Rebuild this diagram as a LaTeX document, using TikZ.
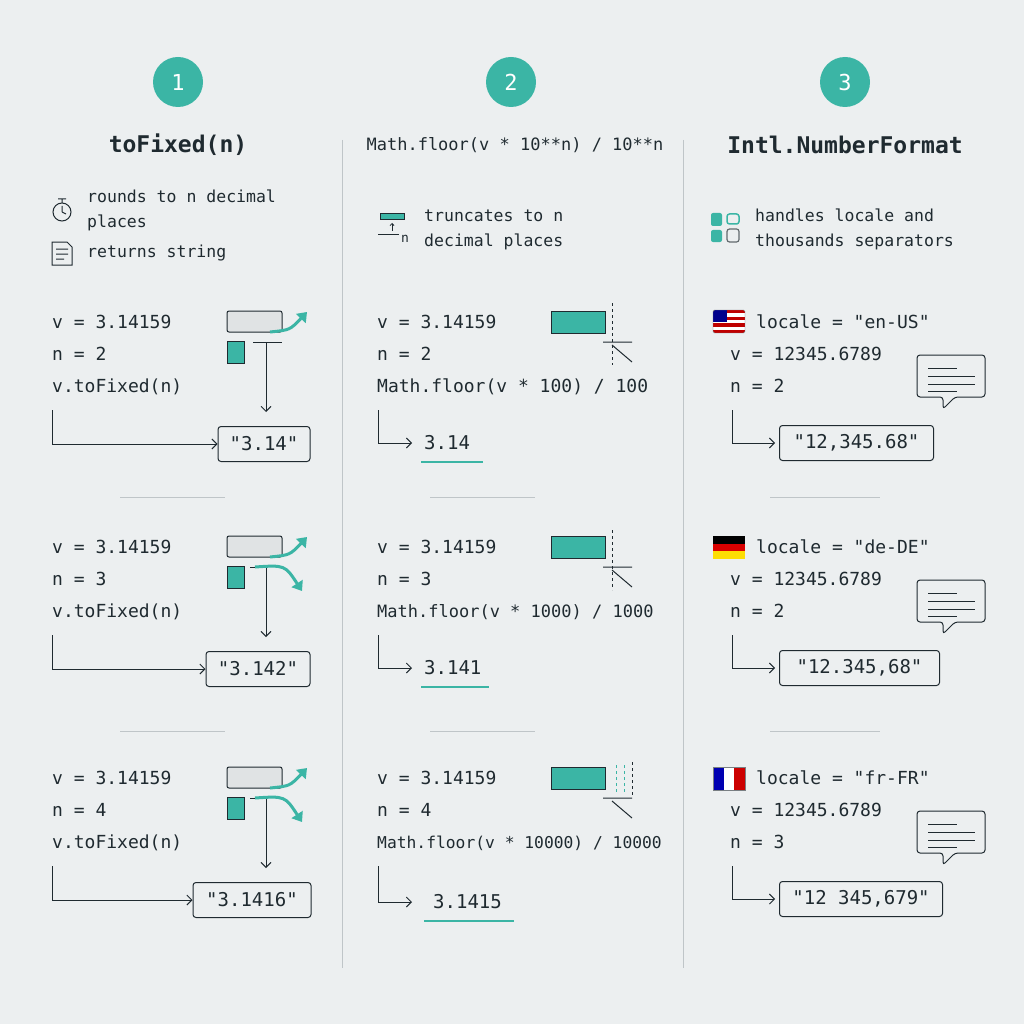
\documentclass[tikz,border=0pt]{standalone}
\usepackage{fontspec}
\setmainfont{DejaVu Sans Mono}[Ligatures=TeXOff]
\usetikzlibrary{arrows.meta}
\definecolor{bg}{HTML}{ECEFF0}
\definecolor{teal}{HTML}{3BB5A5}
\definecolor{ink}{HTML}{1F2A30}
\definecolor{sep}{HTML}{BFC5C8}
\definecolor{boxg}{HTML}{E0E3E4}
\begin{document}
\begin{tikzpicture}[x=1pt,y=-1pt,
  txt/.style={anchor=base west,inner sep=0pt,text=ink,font=\fontsize{18}{18}\selectfont},
  sm/.style={anchor=base west,inner sep=0pt,text=ink,font=\fontsize{16.5}{16.5}\selectfont},
  ttl/.style={inner sep=0pt,text=ink,font=\fontsize{23}{23}\selectfont\bfseries},
  num/.style={circle,fill=teal,minimum size=50pt,inner sep=0pt,text=white,font=\fontsize{22}{22}\selectfont},
  res/.style={draw=ink,line width=1pt,rounded corners=3pt,minimum height=35pt,inner xsep=8pt,text=ink,font=\fontsize{19}{19}\selectfont},
  ln/.style={draw=ink,line width=0.9pt},
  arr/.style={ln,-{Straight Barb[length=5pt,width=10pt]}},
  tarr/.style={draw=teal,line width=3pt,-{Triangle[length=9pt,width=13pt]}}]
\fill[bg] (0,0) rectangle (1024,1024);
\useasboundingbox (0,0) rectangle (1024,1024);
% dividers
\draw[sep,line width=1pt] (342,140) -- (342,968) (683,140) -- (683,968);
\foreach \y in {497,731}{
 \draw[sep,line width=1pt] (120,\y) -- (225,\y) (430,\y) -- (535,\y) (770,\y) -- (880,\y);}
% headers
\node[num] (c1) at (178,82) {1};
\node[num] (c2) at (511,82) {2};
\node[num] (c3) at (845,82) {3};
\node[ttl] (t1) at (178,145) {toFixed(n)};
\node[inner sep=0pt,text=ink,font=\fontsize{17}{17}\selectfont] (t2) at (515,145) {Math.floor(v * 10**n) / 10**n};
\node[ttl] (t3) at (845,145) {Intl.NumberFormat};
% col1 description
\draw[ink,line width=1pt] (62,212) circle (9);
\draw[ink,line width=1pt] (62,212) -- (62,206) (62,212) -- (66,214) (58,199) -- (66,199) (62,199) -- (62,203);
\draw[ink,line width=1pt] (52,242) -- (67,242) -- (72,247) -- (72,265) -- (52,265) -- cycle (56,249) -- (68,249) (56,254) -- (68,254) (56,259) -- (64,259);
\node[sm] (d1a) at (87,203) {rounds to n decimal};
\node[sm] (d1b) at (87,228) {places};
\node[sm] (d1c) at (87,258) {returns string};
% col2 description
\fill[teal] (380,213) rectangle (404,219);
\draw[ink,line width=0.8pt] (380,213) rectangle (404,219);
\draw[ink,line width=0.8pt,-{Straight Barb[length=2pt,width=4pt]}] (392,231) -- (392,223);
\draw[ink,line width=0.8pt] (378,234) -- (399,234);
\node[inner sep=0pt,anchor=base west,text=ink,font=\fontsize{13}{13}\selectfont] (d2n) at (401,243) {n};
\node[sm] (d2a) at (424,222) {truncates to n};
\node[sm] (d2b) at (424,247) {decimal places};
% col3 description
\fill[teal,rounded corners=2pt] (711,213) rectangle (722,226);
\draw[teal,line width=1.5pt,rounded corners=2.5pt] (727,214) rectangle (739,224);
\fill[teal,rounded corners=2pt] (711,230) rectangle (722,242);
\draw[ink!70,line width=1.2pt,rounded corners=2.5pt] (727,229) rectangle (739,242);
\node[sm] (d3a) at (755,222) {handles locale and};
\node[sm] (d3b) at (755,247) {thousands separators};
% ---------- column 1 rows ----------
\foreach \i/\y/\n/\r/\bx/\bw in {1/322/2/"3.14"/264/92, 2/547/3/"3.142"/258/104, 3/778/4/"3.1416"/252/118}{
 \node[txt] (a\i v) at (52,\y+6) {v = 3.14159};
 \node[txt] (a\i n) at (52,\y+38) {n = \n};
 \node[txt] (a\i c) at (52,\y+70) {v.toFixed(n)};
 \coordinate (a\i s) at (52,\y+88);
 \coordinate (a\i k) at (52,\y+122);
 \node[res,minimum width=\bw pt] (a\i r) at (\bx,\y+122) {\r};
 \draw[arr] (a\i s) -- (a\i k) -- (a\i r.west);
 \draw[ink,line width=1pt,fill=boxg,rounded corners=2pt] (227,\y-11) rectangle (282,\y+10);
 \fill[teal] (227,\y+19) rectangle (244,\y+41);
 \draw[ink,line width=0.6pt] (227,\y+19) rectangle (244,\y+41);
 \coordinate (a\i t) at (266,\y+20);
 \coordinate (a\i b) at (266,\y+90);
 \draw[arr] (a\i t) -- (a\i b);
 \draw[tarr] (270,\y+10) .. controls (290,\y+8) .. (307,\y-10);
}
\draw[ink,line width=1pt] (253,342) -- (282,342);
\foreach \y in {547,778}{
 \draw[ink,line width=1pt] (250,\y+20) -- (268,\y+20);
 \draw[tarr] (255,\y+20) .. controls (285,\y+18) .. (302,\y+44);}
% ---------- column 2 rows ----------
\foreach \i/\y/\nn/\m/\r/\ul/\fs/\dy in {1/322/2/100/3.14/62/18/0, 2/547/3/1000/3.141/68/17/0, 3/778/4/10000/3.1415/90/16.3/3}{
 \node[txt] (b\i v) at (377,\y+6) {v = 3.14159};
 \node[txt] (b\i n) at (377,\y+38) {n = \nn};
 \node[anchor=base west,inner sep=0pt,text=ink,font=\fontsize{\fs}{\fs}\selectfont] (b\i c) at (377,\y+70) {Math.floor(v * \m) / \m};
 \coordinate (b\i s) at (378,\y+88);
 \coordinate (b\i k) at (378,\y+121+\dy);
 \node[txt,anchor=west,font=\fontsize{19}{19}\selectfont] (b\i r) at (424+\dy*3,\y+121+\dy) {\r};
 \draw[arr] (b\i s) -- (b\i k) -- ++(34,0);
 \draw[teal,line width=1.5pt] (421+\dy*1,\y+140+\dy) -- ++(\ul,0);
 \fill[teal] (551,\y-11) rectangle (605,\y+11);
 \draw[ink,line width=0.8pt] (551,\y-11) rectangle (605,\y+11);
 \draw[ink,line width=1pt] (603,\y+20) -- (632,\y+20) (612,\y+23) -- (632,\y+40);
}
\draw[ink,line width=0.8pt,dash pattern=on 3pt off 3pt] (612,303) -- (612,365) (612,530) -- (612,590);
\draw[teal,line width=1pt,dash pattern=on 3pt off 3pt] (616,765) -- (616,792) (624,765) -- (624,792);
\draw[ink,line width=0.8pt,dash pattern=on 3pt off 3pt] (632,762) -- (632,795);
% ---------- column 3 rows ----------
\foreach \i/\y/\loc/\n/\r/\bw in {1/322/en-US/2/{"12,345.68"}/154, 2/547/de-DE/2/{"12.345,68"}/160, 3/778/fr-FR/3/{"12 345,679"}/163}{
 \node[txt] (e\i l) at (756,\y+6) {locale = "\loc"};
 \node[txt] (e\i v) at (730,\y+38) {v = 12345.6789};
 \node[txt] (e\i n) at (730,\y+70) {n = \n};
 \coordinate (e\i s) at (732,\y+88);
 \coordinate (e\i k) at (732,\y+121);
 \node[res,minimum width=\bw pt,anchor=west] (e\i r) at (779,\y+121) {\r};
 \draw[arr] (e\i s) -- (e\i k) -- ++(43,0);
 \draw[ink,line width=1pt,rounded corners=3pt] (917,\y+33) -- (985,\y+33) -- (985,\y+75) -- (955,\y+75) -- (943,\y+87) -- (943,\y+75) -- (917,\y+75) -- cycle;
 \draw[ink,line width=1pt] (928,\y+46) -- (957,\y+46) (928,\y+54) -- (975,\y+54) (928,\y+62) -- (975,\y+62) (928,\y+69) -- (957,\y+69);
}
% flags
\begin{scope}
\clip[rounded corners=1.5pt] (713,310) rectangle (745,333);
\fill[white] (713,310) rectangle (745,333);
\foreach \k in {0,2,4,6}{\fill[red!75!black] (713,310+\k*3.3) rectangle (745,313.3+\k*3.3);}
\fill[blue!55!black] (713,310) rectangle (727,322);
\end{scope}
\draw[ink!60,line width=0.4pt,rounded corners=1.5pt] (713,310) rectangle (745,333);
\fill[black] (713,536) rectangle (745,543.7);
\fill[red!85!black] (713,543.7) rectangle (745,551.3);
\fill[yellow!80!orange] (713,551.3) rectangle (745,559);
\fill[blue!70!black] (713,767) rectangle (723.7,790);
\fill[white] (723.7,767) rectangle (734.3,790);
\fill[red!80!black] (734.3,767) rectangle (745,790);
\draw[ink!60,line width=0.4pt] (713,767) rectangle (745,790);
\end{tikzpicture}
\end{document}
